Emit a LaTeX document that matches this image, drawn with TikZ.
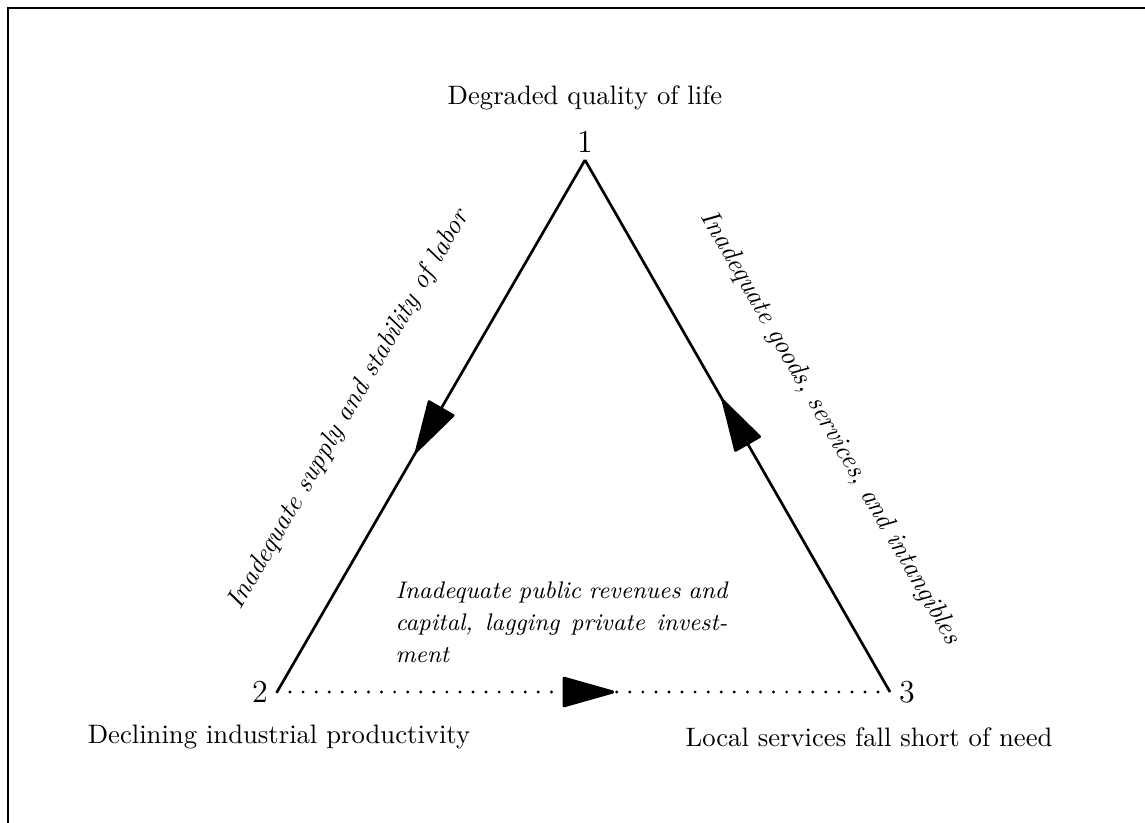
\documentclass[tikz,border=0pt]{standalone}
\usepackage{tikz}
\usetikzlibrary{arrows.meta, decorations.markings}

\begin{document}
\begin{tikzpicture}[
			x=0.375pt, y=-0.375pt,
			edge/.style={line width=1pt, postaction={decorate},
				decoration={markings, mark=at position 0.55 with {\arrow{Triangle[length=21pt, width=11.5pt, round]}}}},
			flow/.style={edge, line cap=round, dash pattern=on 0pt off 4.9pt, line width=1.2pt},
			corner/.style={font=\large},
			caption/.style={font=\normalsize, align=center},
			link/.style={font=\itshape, inner sep=0pt}
		]
		\useasboundingbox (0,0) rectangle (1145,823);
		\draw[line width=1.1pt] (1145,8) -- (8,8) -- (8,823);
		
		\coordinate (v1) at (585,160);
		\coordinate (v2) at (277,692);
		\coordinate (v3) at (890,692);
		
		\node[corner] (n1) at (585,142) {1};
		\node[corner] (n2) at (260,692) {2};
		\node[corner] (n3) at (907,692) {3};
		\node[caption] (top) at (585,98) {Degraded quality of life};
		\node[caption] (left) at (279,737) {Declining industrial productivity};
		\node[caption] (right) at (869,737) {Local services fall short of need};
		
		\draw[edge] (v1) -- (v2);
		\draw[edge] (v3) -- (v1);
		\draw[flow] (v2) -- (v3);
		
		\node[link, rotate=60] (labor) at (349,410) {Inadequate supply and stability of labor};
		\node[link, rotate=-60] (goods) at (830,428) {Inadequate goods, services, and intangibles};
		\node[link, font=\fontsize{9}{12}\selectfont\itshape, text width=124.5pt, align=justify, anchor=north west] (revenue) at (395,581)
			{Inadequate public revenues and\linebreak capital, lagging private invest-\linebreak ment};
		\end{tikzpicture}
\end{document}
